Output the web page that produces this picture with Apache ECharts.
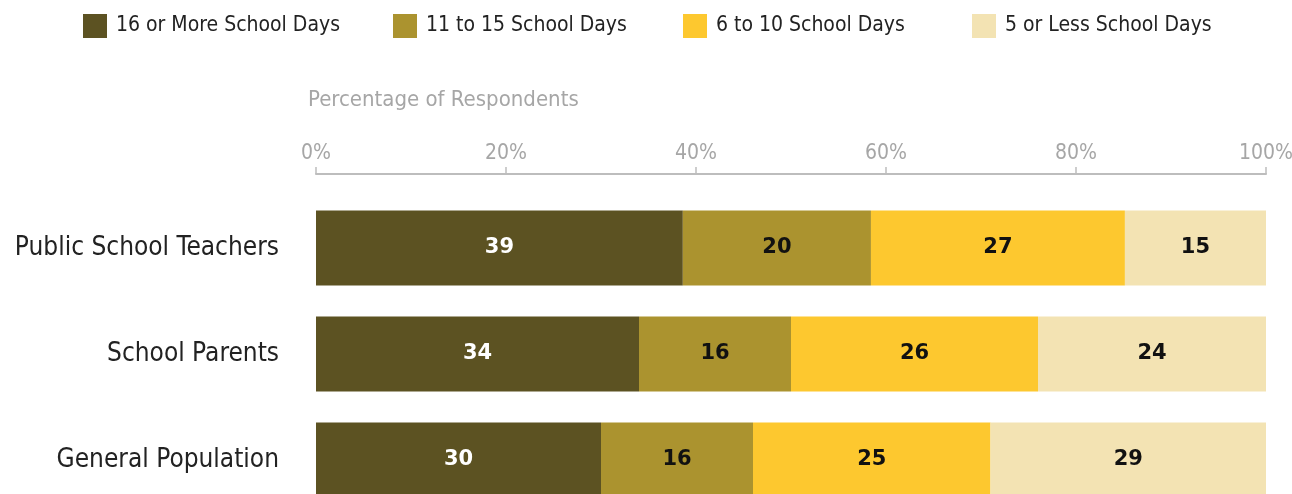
<!DOCTYPE html>
<html>
<head>
<meta charset="utf-8">
<script src="https://cdn.jsdelivr.net/npm/echarts@6/dist/echarts.min.js"></script>
<style>
html,body{margin:0;padding:0;background:#fff;}
#chart{width:1292px;height:494px;}
</style>
</head>
<body>
<div id="chart"></div>
<script>
const categories = ['Public School Teachers', 'School Parents', 'General Population'];
const seriesNames = ['16 or More School Days', '11 to 15 School Days', '6 to 10 School Days', '5 or Less School Days'];
const days16plus = [39, 34, 30];
const days11to15 = [20, 16, 16];
const days6to10 = [27, 26, 25];
const days5less = [15, 24, 29];
const tickLabels = ['0%', '20%', '40%', '60%', '80%', '100%'];

const colors = ['#5c5222', '#ab932f', '#fdc82f', '#f3e3b3'];
const labelColors = ['#ffffff', '#111111', '#111111', '#111111'];
const FONT = '"Liberation Sans Narrow", "DejaVu Sans Condensed", sans-serif';

const raw = [days16plus, days11to15, days6to10, days5less];
const totals = categories.map((c, i) => raw.reduce((s, arr) => s + arr[i], 0));

const legendLefts = [78, 388, 678, 967];

const chart = echarts.init(document.getElementById('chart'));
chart.setOption({
  animation: false,
  textStyle: { fontFamily: FONT },
  title: {
    text: 'Percentage of Respondents',
    left: 303,
    top: 84,
    textStyle: { fontFamily: FONT, fontSize: 22, fontWeight: 'normal', color: '#a6a6a6' }
  },
  legend: seriesNames.map((n, i) => ({
    data: [n],
    left: legendLefts[i],
    top: 9,
    itemWidth: 24,
    itemHeight: 24,
    icon: 'rect',
    selectedMode: false,
    textStyle: { fontFamily: FONT, fontSize: 21, color: '#222', padding: [0, 0, 0, 4] }
  })),
  grid: { left: 316, right: 26, top: 195, height: 318, outerBoundsMode: 'none', containLabel: false },
  xAxis: {
    type: 'value',
    position: 'top',
    offset: 21,
    min: 0,
    max: 100,
    interval: 20,
    axisLine: { show: true, lineStyle: { color: '#bdbdbd', width: 2 } },
    axisTick: { show: true, length: 7, lineStyle: { color: '#bdbdbd', width: 1.5 } },
    splitLine: { show: false },
    axisLabel: {
      margin: 10,
      color: '#a6a6a6',
      fontSize: 21,
      fontFamily: FONT,
      formatter: v => tickLabels[Math.round(v / 20)]
    }
  },
  yAxis: {
    type: 'category',
    inverse: true,
    data: categories,
    axisLine: { show: false },
    axisTick: { show: false },
    axisLabel: { margin: 37, color: '#222', fontSize: 26, fontFamily: FONT }
  },
  series: seriesNames.map((n, si) => ({
    name: n,
    type: 'bar',
    stack: 'total',
    barWidth: 75,
    itemStyle: { color: colors[si] },
    label: {
      show: true,
      position: 'inside',
      color: labelColors[si],
      fontSize: 21,
      fontWeight: 'bold',
      fontFamily: '"DejaVu Sans", sans-serif',
      formatter: p => String(raw[si][p.dataIndex])
    },
    data: raw[si].map((v, i) => v / totals[i] * 100)
  }))
});
</script>
</body>
</html>
